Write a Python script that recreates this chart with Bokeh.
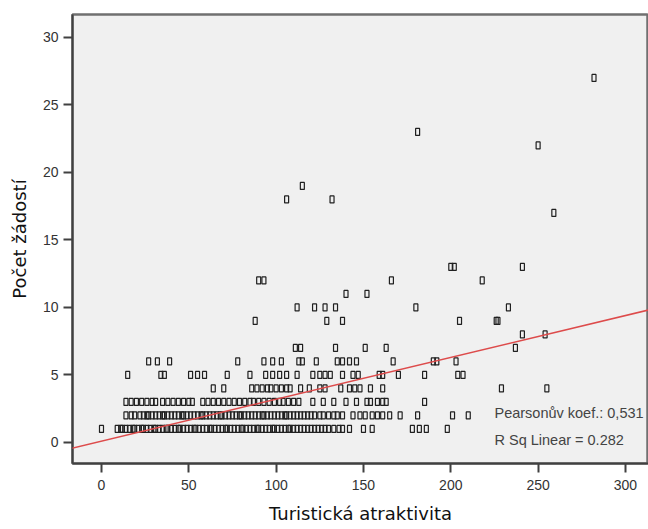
from bokeh.plotting import figure
from bokeh.models import Range1d, FixedTicker, Slope, Label, ColumnDataSource
from bokeh.embed import file_html
from bokeh.resources import INLINE

# ---- data ----
row_y1 = [0, 9, 11, 12, 14, 16, 18, 19, 21, 23, 24, 26, 28, 30, 31, 33, 35, 37, 38, 40, 42, 44, 45, 47,
          49, 51, 53, 54, 56, 58, 60, 62, 63, 65, 67, 69, 71, 72, 74, 76, 78, 80, 81, 83, 85, 87, 89, 90,
          92, 94, 96, 98, 99, 101, 103, 105, 107, 108, 110, 112, 114, 116, 118, 120, 122, 124, 126, 128,
          130, 133, 136, 138, 142, 150, 155, 178, 182, 186, 198]
row_y2 = [14, 17, 19, 22, 24, 26, 27, 29, 31, 33, 35, 36, 38, 40, 42, 44, 46, 47, 49, 51, 53, 55, 57, 58,
          60, 62, 64, 66, 68, 69, 71, 73, 75, 77, 79, 80, 82, 84, 86, 88, 90, 92, 93, 95, 97, 99, 101, 103,
          105, 106, 108, 110, 112, 114, 116, 118, 120, 122, 125, 127, 130, 133, 135, 138, 144, 148, 151,
          155, 158, 161, 165, 171, 181, 201, 210]
row_y3 = [14, 17, 20, 23, 26, 29, 31, 35, 38, 41, 44, 47, 50, 52, 58, 61, 64, 67, 70, 73, 76, 79, 82, 85,
          87, 90, 93, 96, 99, 102, 104, 107, 110, 113, 121, 127, 133, 140, 146, 152, 154, 158, 161, 163, 185]
row_y4 = [64, 70, 86, 89, 92, 95, 97, 100, 103, 106, 108, 114, 119, 125, 128, 137, 142, 145, 148, 154,
          161, 229, 255]
row_y5 = [15, 34, 36, 51, 55, 59, 72, 85, 94, 98, 102, 106, 112, 121, 125, 128, 131, 138, 144, 147, 159,
          161, 170, 185, 204, 207]
row_y6 = [27, 32, 39, 78, 93, 98, 103, 113, 115, 123, 135, 138, 142, 146, 167, 190, 192, 203]
row_y7 = [111, 114, 134, 151, 163, 237]
row_y8 = [241, 254]
row_y9 = [88, 129, 138, 205, 226, 227]
row_y10 = [112, 122, 128, 134, 180, 233]
row_y11 = [140, 152]
row_y12 = [90, 93, 166, 218]
row_y13 = [200, 202, 241]
outlier_x = [259, 106, 132, 115, 250, 181, 282]
outlier_y = [17, 18, 18, 19, 22, 23, 27]

fit_slope = 0.031
fit_intercept = 0.1
pearson_text = "Pearsonův koef.: 0,531"
rsq_text = "R Sq Linear = 0.282"

x_ticks = [0, 50, 100, 150, 200, 250, 300]
y_ticks = [0, 5, 10, 15, 20, 25, 30]

rows = [(1, row_y1), (2, row_y2), (3, row_y3), (4, row_y4), (5, row_y5), (6, row_y6), (7, row_y7),
        (8, row_y8), (9, row_y9), (10, row_y10), (11, row_y11), (12, row_y12), (13, row_y13)]
xs, ys = [], []
for yv, xl in rows:
    xs.extend(xl)
    ys.extend([yv] * len(xl))
xs.extend(outlier_x)
ys.extend(outlier_y)
src = ColumnDataSource(dict(x=xs, y=ys))

p = figure(width=648, height=529, output_backend="svg", toolbar_location=None,
           x_range=Range1d(-16.6, 313.2), y_range=Range1d(-1.56, 31.7),
           min_border_left=72, min_border_right=0, min_border_top=14, min_border_bottom=66)
p.background_fill_color = "#f0f0f0"
p.border_fill_color = "white"
p.outline_line_color = "#707070"
p.outline_line_width = 2.5
p.grid.visible = False

p.rect(x="x", y="y", width=4, height=7, width_units="screen", height_units="screen",
       source=src, fill_color=None, line_color="#202020", line_width=1.2)

p.add_layout(Slope(gradient=fit_slope, y_intercept=fit_intercept, line_color="#dd4b4b", line_width=1.5))

for txt, yv in [(pearson_text, 2.15), (rsq_text, 0.15)]:
    p.add_layout(Label(x=225, y=yv, text=txt, text_font="Liberation Sans", text_font_size="14.5px",
                       text_color="#444444", text_baseline="middle"))

for ax in (p.xaxis[0], p.yaxis[0]):
    ax.axis_line_color = "#404040"
    ax.axis_line_width = 2
    ax.major_tick_line_color = "#404040"
    ax.major_tick_line_width = 2
    ax.major_tick_out = 9
    ax.major_tick_in = 0
    ax.minor_tick_line_color = None
    ax.major_label_text_font = "Liberation Sans"
    ax.major_label_text_font_size = "14px"
    ax.major_label_text_color = "#333333"
    ax.axis_label_text_font = "DejaVu Sans"
    ax.axis_label_text_font_size = "18px"
    ax.axis_label_text_font_style = "normal"
    ax.axis_label_text_color = "#111111"

p.xaxis.ticker = FixedTicker(ticks=x_ticks)
p.yaxis.ticker = FixedTicker(ticks=y_ticks)
p.xaxis.axis_label = "Turistická atraktivita"
p.yaxis.axis_label = "Počet žádostí"
p.xaxis.major_label_standoff = 7
p.yaxis.major_label_standoff = 5
p.xaxis.axis_label_standoff = 10
p.yaxis.axis_label_standoff = 10

open("out.html", "w").write(file_html(p, INLINE))
